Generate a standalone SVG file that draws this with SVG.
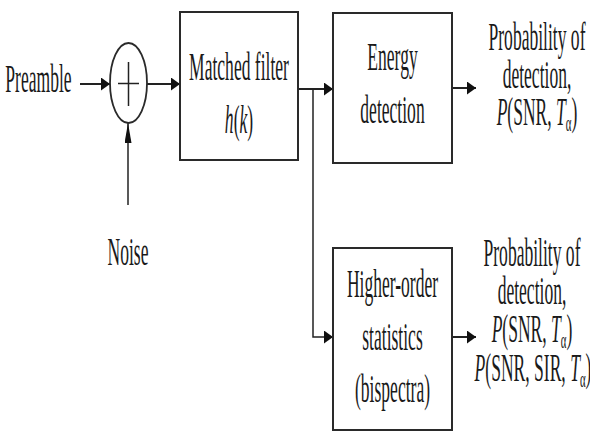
<svg xmlns="http://www.w3.org/2000/svg" width="590" height="440" viewBox="0 0 590 440">
<style>
  .t { font-family: "Liberation Serif", "Times New Roman", serif; font-size: 39px; fill: #1a1a1a; text-anchor: middle; }
  .i { font-style: italic; }
  .sub { font-size: 24px; }
  .box { fill: #ffffff; stroke: #2a2a2a; stroke-width: 2; }
  .ln { fill: none; stroke: #222; stroke-width: 2; }
  .thin { fill: none; stroke: #222; stroke-width: 1.5; }
</style>
<defs>
  <marker id="ah" markerUnits="userSpaceOnUse" viewBox="0 0 9 13" markerWidth="9" markerHeight="13" refX="9" refY="6.5" orient="auto">
    <path d="M0,0 L9,6.5 L0,13 Z" fill="#111"/>
  </marker>
  <marker id="av" markerUnits="userSpaceOnUse" viewBox="0 0 20 7" markerWidth="20" markerHeight="7" refX="20" refY="3.5" orient="auto">
    <path d="M0,0 L20,3.5 L0,7 Z" fill="#111"/>
  </marker>
</defs>
<rect width="590" height="440" fill="#ffffff"/>

<g id="connectors">
  <line class="ln" x1="80" y1="84" x2="110" y2="84" marker-end="url(#ah)"/>
  <line class="ln" x1="147" y1="84" x2="180" y2="84" marker-end="url(#ah)"/>
  <line class="thin" x1="128" y1="205" x2="128" y2="123" marker-end="url(#av)"/>
  <line class="ln" x1="298" y1="89" x2="333" y2="89" marker-end="url(#ah)"/>
  <polyline class="thin" points="313,89 313,337 333,337" marker-end="url(#ah)"/>
  <line class="ln" x1="452" y1="88" x2="476" y2="88" marker-end="url(#ah)"/>
  <line class="ln" x1="452" y1="337" x2="476" y2="337" marker-end="url(#ah)"/>
</g>

<g id="preamble">
  <text class="t" transform="translate(38.5,92) scale(0.45,1)">Preamble</text>
</g>

<g id="adder">
  <ellipse cx="128.5" cy="83" rx="18.5" ry="40" fill="none" stroke="#2a2a2a" stroke-width="1.8"/>
  <line class="thin" x1="118" y1="83.5" x2="139" y2="83.5"/>
  <line class="thin" x1="128.5" y1="62" x2="128.5" y2="106"/>
</g>

<g id="noise">
  <text class="t" transform="translate(128,265) scale(0.45,1)">Noise</text>
</g>

<g id="matched-filter">
  <rect class="box" x="180" y="12" width="118" height="148"/>
  <text class="t" transform="translate(239,80) scale(0.45,1)">Matched filter</text>
  <text class="t" transform="translate(239,133) scale(0.45,1)"><tspan class="i">h</tspan>(<tspan class="i">k</tspan>)</text>
</g>

<g id="energy-detection">
  <rect class="box" x="333" y="13" width="119" height="150"/>
  <text class="t" transform="translate(392.5,70) scale(0.45,1)">Energy</text>
  <text class="t" transform="translate(392.5,123) scale(0.45,1)">detection</text>
</g>

<g id="energy-output">
  <text class="t" transform="translate(537,50) scale(0.45,1)">Probability of</text>
  <text class="t" transform="translate(537,88) scale(0.45,1)">detection,</text>
  <text class="t" transform="translate(537,125) scale(0.45,1)"><tspan class="i">P</tspan>(SNR, <tspan class="i">T</tspan><tspan class="sub" dy="6">α</tspan><tspan dy="-6">)</tspan></text>
</g>

<g id="higher-order">
  <rect class="box" x="333" y="248" width="119" height="182"/>
  <text class="t" transform="translate(392.5,297) scale(0.45,1)">Higher-order</text>
  <text class="t" transform="translate(392.5,350) scale(0.45,1)">statistics</text>
  <text class="t" transform="translate(392.5,402) scale(0.45,1)">(bispectra)</text>
</g>

<g id="hos-output">
  <text class="t" transform="translate(532,266) scale(0.45,1)">Probability of</text>
  <text class="t" transform="translate(532,304) scale(0.45,1)">detection,</text>
  <text class="t" transform="translate(532,342) scale(0.45,1)"><tspan class="i">P</tspan>(SNR, <tspan class="i">T</tspan><tspan class="sub" dy="6">α</tspan><tspan dy="-6">)</tspan></text>
  <text class="t" transform="translate(533,381) scale(0.45,1)"><tspan class="i">P</tspan>(SNR, SIR, <tspan class="i">T</tspan><tspan class="sub" dy="6">α</tspan><tspan dy="-6">)</tspan></text>
</g>
</svg>
